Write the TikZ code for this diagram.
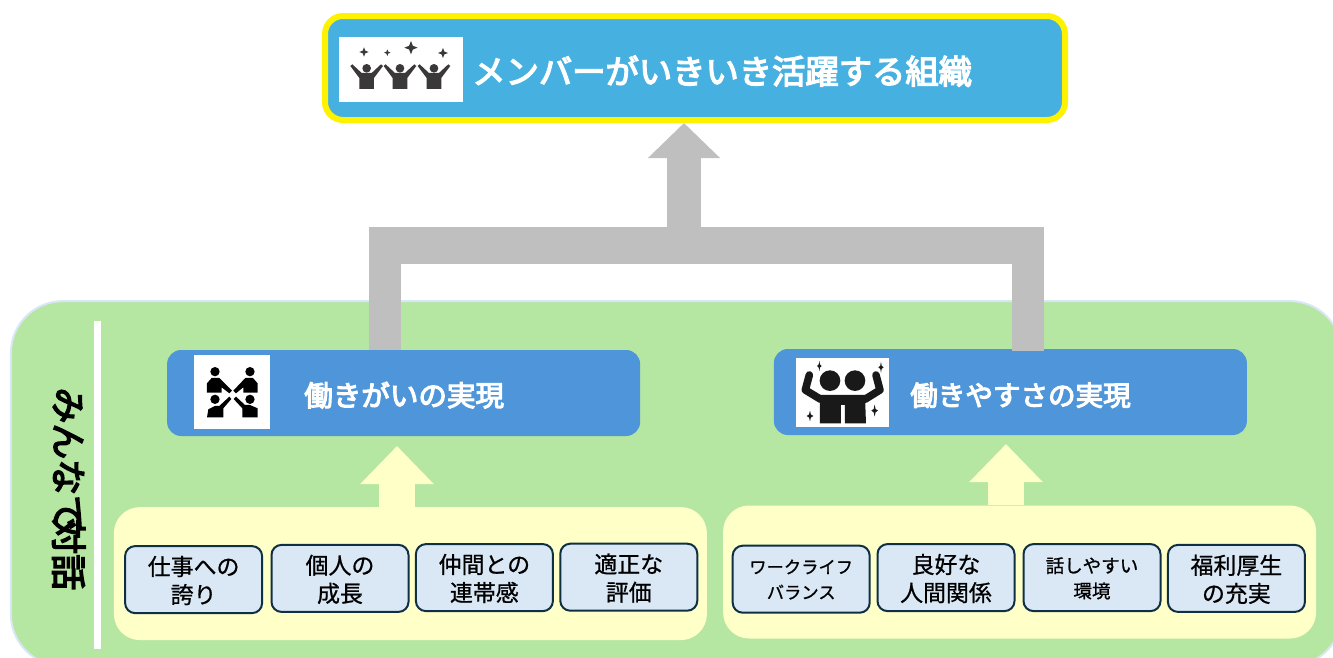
\documentclass[tikz,border=0pt]{standalone}
\usepackage{fontspec}
\setmainfont[FakeBold=0.8]{Noto Sans CJK JP}
\newfontfamily\labelfont[FakeBold=4]{Noto Sans CJK JP}
\usetikzlibrary{arrows.meta}

\definecolor{panelgreen}{HTML}{B5E6A2}
\definecolor{panelline}{HTML}{D9E6F5}
\definecolor{softyellow}{HTML}{FFFFC8}
\definecolor{goalblue}{HTML}{46B1E1}
\definecolor{driveblue}{HTML}{4E95D9}
\definecolor{factorblue}{HTML}{DAE8F6}
\definecolor{factorline}{HTML}{0E2F44}
\definecolor{bargray}{HTML}{BFBFBF}
\definecolor{icondark}{HTML}{3A3838}

\tikzset{
  goalbox/.style={draw=yellow, fill=goalblue, line width=0.15cm, rounded corners=0.45cm, minimum width=18.5cm, minimum height=2.6cm},
  drivebox/.style={fill=driveblue, rounded corners=0.35cm, minimum width=11.825cm, minimum height=2.15cm},
  softbox/.style={fill=softyellow, rounded corners=0.65cm, minimum width=14.825cm, minimum height=3.325cm},
  factorbox/.style={draw=factorline, fill=factorblue, line width=0.05cm, rounded corners=0.25cm, minimum width=3.425cm, minimum height=1.675cm, align=center, inner sep=0pt, text depth=0pt, font=\fontsize{16.3}{20}\selectfont},
  smallfactor/.style={font=\fontsize{13.2}{18}\selectfont},
  iconbox/.style={fill=white, inner sep=0pt},
  whitelabel/.style={text=white, font=\labelfont\fontsize{20.3}{24}\selectfont, inner sep=0pt, anchor=west},
  barline/.style={draw=bargray},
  softarrow/.style={draw=softyellow, line width=0.9cm, -{Triangle[length=0.95cm, width=1.78cm]}},
  sparkle/.pic={\fill (0,1) -- (0.28,0.28) -- (1,0) -- (0.28,-0.28) -- (0,-1) -- (-0.28,-0.28) -- (-1,0) -- (-0.28,0.28) -- cycle;},
  cheer/.pic={
    \fill (0,0) circle [radius=13];
    \fill (-49,-7) -- (-43,-12) -- (-15,14) -- (15,14) -- (43,-12) -- (49,-7) -- (22,29) -- (22,62) -- (-22,62) -- (-22,29) -- cycle;
  }
}

\begin{document}
\begin{tikzpicture}
  \useasboundingbox (0,0) rectangle (33.325,-16.45);
  \clip (0,0) rectangle (33.325,-16.45);

  % Panels
  \node (panel) at (16.91,-12.09) [draw=panelline, fill=panelgreen, line width=0.05cm, rounded corners=1.3cm, minimum width=33.275cm, minimum height=9.125cm] {};
  \coordinate (ruleTop) at (2.44,-8.03);
  \coordinate (ruleEnd) at (2.44,-16.22);
  \draw[white, line width=0.17cm] (ruleTop) -- (ruleEnd);
  \node (dialogue) at (1.72,-12.22) [rotate=-90, inner sep=0pt, font=\labelfont\fontsize{25.5}{30}\selectfont] {みんなで\kern-0.35em 対話};
  \node (softL) at (10.26,-14.34) [softbox] {};
  \node (softR) at (25.49,-14.3) [softbox] {};

  % Top goal
  \node (goal) at (17.375,-1.7) [goalbox] {};
  \node (goalIcon) at (10.025,-1.7375) [iconbox, minimum width=3.1cm, minimum height=1.625cm] {};
  \node (goalText) at (11.8,-1.78) [whitelabel, font=\labelfont\fontsize{23.7}{28}\selectfont] {メンバーがいきいき活躍する組織};

  % Middle level
  \node (driveL) at (10.09,-9.825) [drivebox] {};
  \node (driveR) at (25.26,-9.8) [drivebox] {};
  \node (iconL) at (5.8,-9.8) [iconbox, minimum width=1.9cm, minimum height=1.85cm] {};
  \node (iconR) at (21.0625,-9.8125) [iconbox, minimum width=2.325cm, minimum height=1.725cm] {};
  \node (textL) at (7.6,-9.88) [whitelabel] {働きがいの実現};
  \node (textR) at (22.75,-9.88) [whitelabel, font=\labelfont\fontsize{19.6}{24}\selectfont] {働きやすさの実現};

  % Factors
  \node (f1) at (4.84,-14.49) [factorbox] {仕事への\\誇り};
  \node (f2) at (8.5,-14.46) [factorbox] {個人の\\成長};
  \node (f3) at (12.11,-14.44) [factorbox] {仲間との\\連帯感};
  \node (f4) at (15.72,-14.43) [factorbox] {適正な\\評価};
  \node (f5) at (20.03,-14.48) [factorbox, font=\fontsize{12.3}{18}\selectfont] {ワークライフ\\バランス};
  \node (f6) at (23.65,-14.44) [factorbox] {良好な\\人間関係};
  \node (f7) at (27.3,-14.44) [factorbox, smallfactor] {話しやすい\\環境};
  \node (f8) at (30.91,-14.46) [factorbox] {福利厚生\\の充実};

  % Connectors
  \coordinate (legL) at (9.625,-5.675);
  \coordinate (legR) at (25.7,-5.675);
  \coordinate (barL) at (9.225,-6.1375);
  \coordinate (barR) at (26.1,-6.1375);
  \coordinate (hub) at (17.1,-6.1375);
  \coordinate (tipL) at (9.925,-11.15);
  \coordinate (tipR) at (25.15,-11.1);
  \draw[barline, line width=0.8cm] (driveL.north -| legL) -- (legL);
  \draw[barline, line width=0.8cm] ([yshift=-0.05cm]driveR.north -| legR) -- (legR);
  \draw[barline, line width=0.925cm] (barL) -- (barR);
  \draw[barline, line width=0.85cm, -{Triangle[length=0.875cm, width=1.75cm]}] (hub) -- (hub |- goal.south);
  \draw[softarrow] (softL.north -| tipL) -- (tipL);
  \draw[softarrow] (softR.north -| tipR) -- (tipR);

  % Icon goal
  \begin{scope}[shift={(8,-0.125)}, x=0.00833cm, y=-0.00833cm, fill=icondark]
    \pic[scale=14] at (132,141) {sparkle};
    \pic[scale=10] at (202,143) {sparkle};
    \pic[scale=20] at (273,128) {sparkle};
    \pic[scale=15] at (369,144) {sparkle};
    \pic at (140,190) {cheer};
    \pic at (240,190) {cheer};
    \pic at (342,190) {cheer};
  \end{scope}

  % Icon left
  \begin{scope}[shift={(4,-8.5)}, x=0.00833cm, y=-0.00833cm, fill=black]
    \fill (165,95) circle [radius=14];
    \fill (270,95) circle [radius=14];
    \fill (165,178) circle [radius=14];
    \fill (270,178) circle [radius=14];
    \fill (141,158) -- (141,130) -- (155,114) -- (178,114) -- (216,152) -- (208,160) -- (185,142) -- (185,158) -- cycle;
    \fill (293,158) -- (293,130) -- (279,114) -- (256,114) -- (220,152) -- (228,160) -- (250,142) -- (250,158) -- cycle;
    \fill (141,232) -- (145,208) -- (165,198) -- (178,198) -- (208,170) -- (214,177) -- (190,205) -- (190,232) -- cycle;
    \fill (293,232) -- (293,205) -- (270,195) -- (255,195) -- (228,170) -- (221,177) -- (247,205) -- (247,232) -- cycle;
  \end{scope}

  % Icon right
  \begin{scope}[shift={(19.25,-8.5)}, x=0.00833cm, y=-0.00833cm, fill=black!90]
    \pic[xscale=7, yscale=16] at (148,78) {sparkle};
    \pic[xscale=8, yscale=16] at (333,82) {sparkle};
    \pic[xscale=10, yscale=16] at (120,228) {sparkle};
    \pic[xscale=10, yscale=18] at (314,212) {sparkle};
    \fill (180,122) circle [radius=31];
    \fill (255,122) circle [radius=31];
    \draw[black!90, line width=0.19cm, line cap=round, line join=round] (118,105) -- (106,150) -- (152,178);
    \draw[black!90, line width=0.19cm, line cap=round, line join=round] (318,105) -- (330,150) -- (285,178);
    \fill (150,165) -- (285,165) -- (288,250) -- (225,250) -- (225,195) -- (213,195) -- (213,250) -- (150,250) -- cycle;
  \end{scope}
\end{tikzpicture}
\end{document}
